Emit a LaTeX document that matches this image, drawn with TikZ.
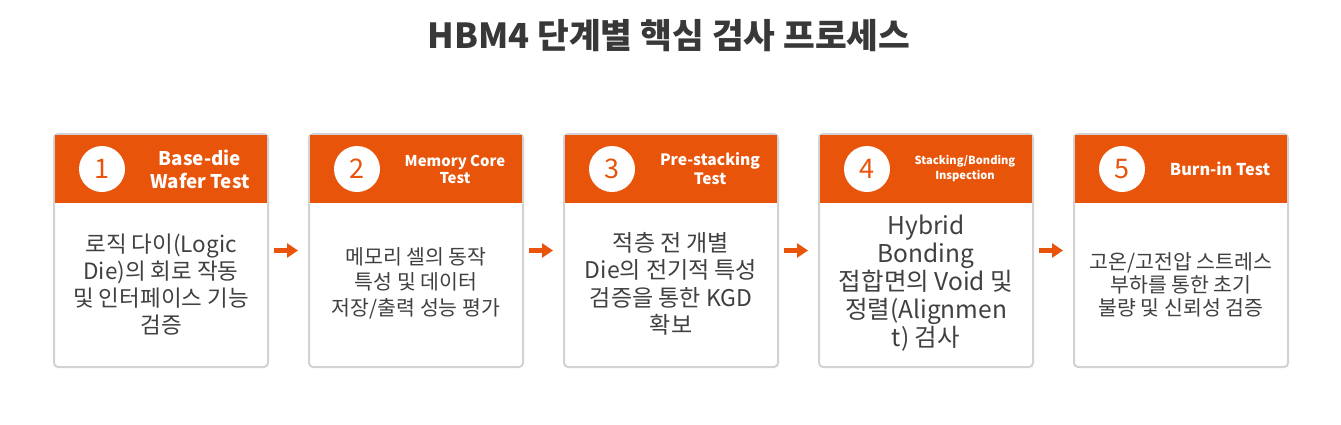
\documentclass[tikz,border=0pt]{standalone}
\usepackage{fontspec}
\setmainfont{Noto Sans CJK KR}
\usetikzlibrary{arrows.meta}
\definecolor{org}{HTML}{E8540A}
\definecolor{brd}{HTML}{D2D2D2}
\definecolor{txt}{HTML}{404040}
\definecolor{ttl}{HTML}{383838}
\tikzset{
  card/.style={draw=brd, line width=2pt, rounded corners=4pt, fill=white,
    minimum width=214pt, minimum height=233pt, inner sep=0pt},
  hdr/.style={fill=org, draw=none, minimum width=212pt, minimum height=68pt, inner sep=0pt},
  num/.style={circle, fill=white, minimum size=46pt, inner sep=0pt, text=org,
    font=\fontsize{27}{27}\selectfont},
  htxt/.style={text=white, align=center, inner sep=0pt, font=\bfseries},
  body/.style={text=txt, align=center, inner sep=0pt},
  arr/.style={draw=org, line width=5pt, -{Triangle[length=11pt,width=14pt]},
    shorten <=5pt, shorten >=10pt},
}
\begin{document}
\begin{tikzpicture}[x=1pt,y=-1pt]
\useasboundingbox (0,0) rectangle (1341,424);
\node[text=ttl, font=\fontsize{34.5}{34.5}\selectfont\bfseries] (title) at (669,36) {HBM4 단계별 핵심 검사 프로세스};

% card 1
\node[card] (c1) at (161,250.5) {};
\node[hdr] (h1) at (161,169) {};
\node[num] (n1) at (102,169) {1};
\node[htxt, font=\fontsize{18.8}{23}\selectfont\bfseries] (t1) at (200,169) {Base-die\\Wafer Test};
\node[body, font=\fontsize{22.5}{27}\selectfont] (b1) at (161,285) {로직 다이(Logic\\Die)의 회로 작동\\및 인터페이스 기능\\검증};

% card 2
\node[card] (c2) at (416,250.5) {};
\node[hdr] (h2) at (416,169) {};
\node[num] (n2) at (357,169) {2};
\node[htxt, font=\fontsize{14.9}{17}\selectfont\bfseries] (t2) at (455,169) {Memory Core\\Test};
\node[body, font=\fontsize{20.5}{25.5}\selectfont] (b2) at (416,283) {메모리 셀의 동작\\특성 및 데이터\\저장/출력 성능 평가};

% card 3
\node[card] (c3) at (671,250.5) {};
\node[hdr] (h3) at (671,169) {};
\node[num] (n3) at (612,169) {3};
\node[htxt, font=\fontsize{15.6}{19}\selectfont\bfseries] (t3) at (710,169) {Pre-stacking\\Test};
\node[body, font=\fontsize{23}{27.5}\selectfont] (b3) at (671,284) {적층 전 개별\\Die의 전기적 특성\\검증을 통한 KGD\\확보};

% card 4
\node[card] (c4) at (926,250.5) {};
\node[hdr] (h4) at (926,169) {};
\node[num] (n4) at (867,169) {4};
\node[htxt, font=\fontsize{11.1}{15}\selectfont\bfseries] (t4) at (965,169) {Stacking/Bonding\\Inspection};
\node[body, font=\fontsize{24.5}{28}\selectfont] (b4) at (926,283) {Hybrid\\Bonding\\접합면의 Void 및\\정렬(Alignmen\\t) 검사};

% card 5
\node[card] (c5) at (1181,250.5) {};
\node[hdr] (h5) at (1181,169) {};
\node[num] (n5) at (1122,169) {5};
\node[htxt, font=\fontsize{16.3}{20}\selectfont\bfseries] (t5) at (1220,169) {Burn-in Test};
\node[body, font=\fontsize{20.5}{23}\selectfont] (b5) at (1181,285) {고온/고전압 스트레스\\부하를 통한 초기\\불량 및 신뢰성 검증};

\draw[arr] (c1.east) -- (c2.west);
\draw[arr] (c2.east) -- (c3.west);
\draw[arr] (c3.east) -- (c4.west);
\draw[arr] (c4.east) -- (c5.west);
\end{tikzpicture}
\end{document}
